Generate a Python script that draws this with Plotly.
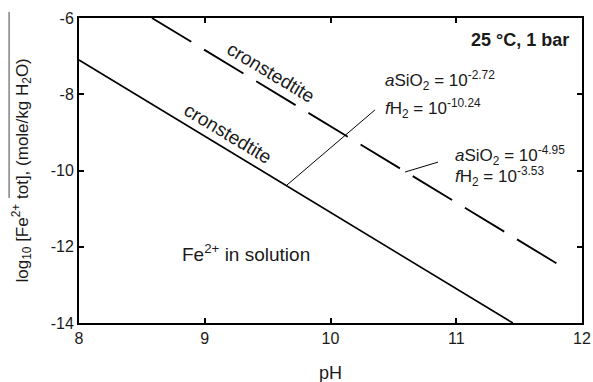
import plotly.graph_objects as go

# Stability boundaries of cronstedtite vs. Fe2+ in solution (slope -2 in pH)
ph_solid = [8.0, 11.45]
logfe_solid = [-7.1, -14.0]
ph_dashed = [8.58, 11.89]
logfe_dashed = [-6.0, -12.62]

# Leader lines from boundary lines to their condition labels
lead1_ph = [9.654, 10.354]
lead1_log = [-10.38, -8.41]
lead2_ph = [10.593, 10.855]
lead2_log = [-10.04, -9.78]

x_ticks = [8, 9, 10, 11, 12]
y_ticks = [-14, -12, -10, -8, -6]

FONT = "Liberation Sans, Arial, sans-serif"
INK = "#1a1a1a"

fig = go.Figure()
fig.add_trace(go.Scatter(x=ph_solid, y=logfe_solid, mode="lines",
                         line=dict(color="black", width=1.6), hoverinfo="skip"))
fig.add_trace(go.Scatter(x=ph_dashed, y=logfe_dashed, mode="lines",
                         line=dict(color="black", width=1.8, dash="46px,15px"),
                         hoverinfo="skip"))
fig.add_trace(go.Scatter(x=lead1_ph, y=lead1_log, mode="lines",
                         line=dict(color="black", width=1), hoverinfo="skip"))
fig.add_trace(go.Scatter(x=lead2_ph, y=lead2_log, mode="lines",
                         line=dict(color="black", width=1), hoverinfo="skip"))

ann = []
def label(x, y, text, size=19, angle=0, xanchor="center", bold=False, ref=("x", "y")):
    ann.append(dict(x=x, y=y, xref=ref[0], yref=ref[1],
                    text=(f"<b>{text}</b>" if bold else text),
                    showarrow=False, textangle=angle, xanchor=xanchor, yanchor="middle",
                    font=dict(family=FONT, size=size, color=INK)))

label(9.527, -7.42, "cronstedtite", angle=31)
label(9.185, -9.02, "cronstedtite", angle=31)
label(9.33, -12.17, "Fe<sup>2+</sup> in solution", size=19)
label(11.91, -6.58, "25 °C, 1 bar", size=18, xanchor="right", bold=True)
label(10.417, -7.63, "<i>a</i>SiO<sub>2</sub> = 10<sup>-2.72</sup>", size=17, xanchor="left")
label(10.417, -8.38, "<i>f</i>H<sub>2</sub> = 10<sup>-10.24</sup>", size=17, xanchor="left")
label(10.974, -9.60, "<i>a</i>SiO<sub>2</sub> = 10<sup>-4.95</sup>", size=17, xanchor="left")
label(10.974, -10.17, "<i>f</i>H<sub>2</sub> = 10<sup>-3.53</sup>", size=17, xanchor="left")

# Axis titles
label(0.5, -0.164, "pH", size=18, ref=("paper", "paper"))
label(-0.1133, 0.5, "log<sub>10</sub> [Fe<sup>2+</sup> tot], (mole/kg H<sub>2</sub>O)",
      size=17, angle=-90, ref=("paper", "paper"))

axis_common = dict(showgrid=False, zeroline=False, showline=True, linecolor="black",
                   linewidth=2, mirror="ticks", ticks="inside", ticklen=5,
                   tickcolor="black", tickwidth=1.5, automargin=False,
                   tickfont=dict(family=FONT, size=16, color=INK))

fig.update_layout(
    width=593, height=382,
    margin=dict(l=79, r=11, t=18, b=59),
    paper_bgcolor="white", plot_bgcolor="white",
    showlegend=False,
    annotations=ann,
    xaxis=dict(range=[8, 12], tickvals=x_ticks, ticktext=[str(v) for v in x_ticks],
               **axis_common),
    yaxis=dict(range=[-14, -6], tickvals=y_ticks, ticktext=[str(v) for v in y_ticks],
               **axis_common),
    shapes=[dict(type="line", xref="paper", yref="paper", x0=-0.139, x1=-0.139,
                 y0=0.41, y1=1.02, line=dict(color="#444", width=1))],
)

fig.write_html("out.html")
